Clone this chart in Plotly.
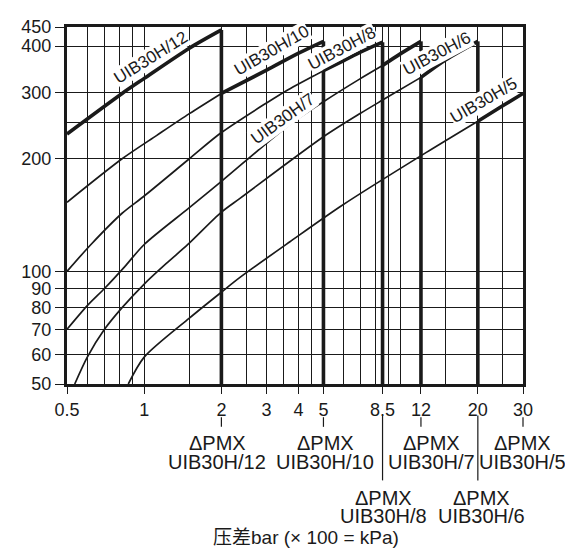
import math
import plotly.graph_objects as go

# axis ticks (pressure difference in bar, flow on y)
x_ticks = [0.5, 1, 2, 3, 4, 5, 8.5, 12, 20, 30]
x_minor = [0.6, 0.7, 0.8, 0.9, 1.5, 2.5, 3.5, 4.5, 6, 7, 8, 9, 10, 15, 25]
y_ticks = [50, 60, 70, 80, 90, 100, 200, 300, 400, 450]
y_minor = [250]

# curves: thin part, then thick (working) part
h12_x = [0.5, 0.82, 1.0, 1.5, 2.0]
h12_y = [233, 299, 328, 395, 442]

h10_thin_x = [0.5, 0.82, 1.12, 1.5, 2.0]
h10_thin_y = [153, 200, 231, 264, 299]
h10_x = [2, 3, 4, 5]
h10_y = [299, 345, 383, 412]

h8_thin_x = [0.5, 0.62, 0.82, 1.0, 1.5, 2.0, 3.0, 3.64, 5.0]
h8_thin_y = [100, 118, 143, 159, 200, 235, 282, 306, 344]
h8_x = [5, 6, 7, 8.5]
h8_y = [344, 366, 386, 410]

h7_thin_x = [0.5, 0.6, 0.7, 0.84, 1.0, 1.5, 2.0, 3.64, 5.0, 6.94, 8.5]
h7_thin_y = [70, 81, 90, 103, 118, 148, 174, 245, 284, 327, 355]
h7_x = [8.5, 10, 12]
h7_y = [355, 382, 412]

h6_thin_x = [0.536, 0.6, 0.7, 0.82, 1.0, 1.22, 1.48, 2.0, 2.37, 5.0, 7.0, 8.5, 12]
h6_thin_y = [50, 59, 70, 80, 92.5, 105, 118, 144, 157, 229, 265, 287, 330]
h6_x = [12, 15, 20]
h6_y = [330, 368, 412]

h5_thin_x = [0.867, 1.0, 1.5, 2.0, 2.37, 3.7, 5.9, 12.6, 20]
h5_thin_y = [50, 59, 75, 88, 96.5, 120, 150, 208, 252]
h5_x = [20, 25, 30]
h5_y = [252, 277, 299]

# thick verticals at the max pressure of each model
stem_x = [2, 5, 8.5, 12, 20]
stem_top = [442, 344, 410, 330, 252]
hook_x = [5, 12, 20]
hook_top = [412, 412, 412]
hook_bottom = [395, 388, 296]

# curve labels: text, x, y, angle
lab_text = ["UIB30H/12", "UIB30H/10", "UIB30H/8", "UIB30H/7", "UIB30H/6", "UIB30H/5"]
lab_x = [1.06, 3.14, 5.89, 3.49, 13.9, 21.1]
lab_y = [374, 390, 395, 256, 383, 286]
lab_ang = [-32, -30, -28, -36, -28, -30]

# ΔPMX notes under the axis (name, tick at, text centre in px)
pmx_up = [("UIB30H/12", 2, 217), ("UIB30H/10", 5, 325), ("UIB30H/7", 12, 431), ("UIB30H/5", 30, 522)]
pmx_low = [("UIB30H/8", 8.5, 383), ("UIB30H/6", 20, 481)]

FONT = "Liberation Sans, Arial, Noto Sans CJK SC"
INK = "#1a1a1a"

fig = go.Figure()

def line(x, y, w):
    fig.add_trace(go.Scatter(x=x, y=y, mode="lines", line=dict(color=INK, width=w, shape="spline", smoothing=0.8),
                             hoverinfo="skip", showlegend=False))

for xs, ys in [(h10_thin_x, h10_thin_y), (h8_thin_x, h8_thin_y), (h7_thin_x, h7_thin_y),
               (h6_thin_x, h6_thin_y), (h5_thin_x, h5_thin_y)]:
    line(xs, ys, 1.7)

for xs, ys in [(h12_x, h12_y), (h10_x, h10_y), (h8_x, h8_y), (h7_x, h7_y), (h6_x, h6_y), (h5_x, h5_y)]:
    line(xs, ys, 3.6)

vx, vy = [], []
for x, t in zip(stem_x, stem_top):
    vx += [x, x, None]
    vy += [t, 50, None]
for x, t, b in zip(hook_x, hook_top, hook_bottom):
    vx += [x, x, None]
    vy += [t, b, None]
fig.add_trace(go.Scatter(x=vx, y=vy, mode="lines", line=dict(color=INK, width=3.6),
                         hoverinfo="skip", showlegend=False))

for t, x, y, a in zip(lab_text, lab_x, lab_y, lab_ang):
    fig.add_annotation(x=math.log10(x), y=math.log10(y), text=t, textangle=a, showarrow=False,
                       font=dict(size=17, color=INK, family=FONT), bgcolor="white", borderpad=0)

# ΔPMX notes below the x axis
lx0, lx1 = math.log10(0.5), math.log10(30)
def px(v):
    return (math.log10(v) - lx0) / (lx1 - lx0)

def pp(p):
    # pixel column of the plot -> paper x
    return (p - 67) / 456.0

def note(name, cx, y1, y2):
    for txt, yy in [("ΔPMX", y1), (name, y2)]:
        fig.add_annotation(x=pp(cx), y=yy, xref="paper", yref="paper", text=txt, showarrow=False,
                           xanchor="center", yanchor="middle",
                           font=dict(size=20, color=INK, family=FONT))

for name, x, cx in pmx_up:
    fig.add_shape(type="line", xref="paper", yref="paper", x0=px(x), x1=px(x), y0=-0.093, y1=-0.12,
                  line=dict(color=INK, width=1.2))
    note(name, cx, -0.166, -0.218)
for name, x, cx in pmx_low:
    fig.add_shape(type="line", xref="paper", yref="paper", x0=px(x), x1=px(x), y0=-0.088, y1=-0.27,
                  line=dict(color=INK, width=1.2))
    note(name, cx, -0.319, -0.371)

fig.add_annotation(x=pp(306), y=-0.43, xref="paper", yref="paper", text="压差bar (× 100 = kPa)",
                   showarrow=False, xanchor="center", yanchor="middle",
                   font=dict(size=19, color=INK, family=FONT))

grid = dict(showgrid=True, gridcolor=INK, gridwidth=1.1)
fig.update_xaxes(type="log", range=[lx0, lx1], tickvals=x_ticks, ticktext=[str(v) for v in x_ticks],
                 ticks="outside", ticklen=7, tickcolor=INK, showline=True, mirror=True, linewidth=3,
                 linecolor=INK, zeroline=False, tickfont=dict(size=18, color=INK, family=FONT),
                 minor=dict(tickvals=x_minor, ticks="", **grid), **grid)
fig.update_yaxes(type="log", range=[math.log10(50), math.log10(450)], tickvals=y_ticks,
                 ticktext=[str(v) for v in y_ticks], ticks="outside", ticklen=9, tickcolor=INK,
                 showline=True, mirror=True, linewidth=3, linecolor=INK, zeroline=False,
                 tickfont=dict(size=18, color=INK, family=FONT),
                 minor=dict(tickvals=y_minor, ticks="", **grid), **grid)

# page body keeps an 8px margin, so the figure is drawn 8px smaller
fig.update_layout(width=565, height=543, margin=dict(l=59, r=50, t=9, b=167),
                  paper_bgcolor="white", plot_bgcolor="white", showlegend=False)

fig.write_html("out.html")
